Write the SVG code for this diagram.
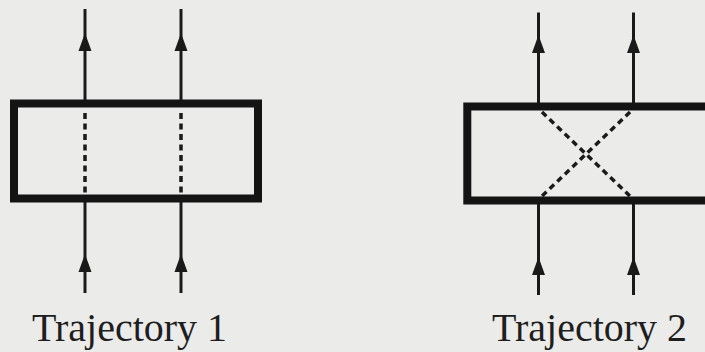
<svg xmlns="http://www.w3.org/2000/svg" xmlns:xlink="http://www.w3.org/1999/xlink" width="705" height="352" viewBox="0 0 705 352">
<style>
.bg{fill:#ebebea}
.box{fill:none;stroke:#141414;stroke-width:8}
.wire{stroke:#1a1a1a;stroke-width:3;fill:none}
.dash{stroke:#1a1a1a;stroke-width:3.5;fill:none;stroke-dasharray:6 4.5}
.ah{fill:#1a1a1a}
.lbl{font-family:"Liberation Serif","DejaVu Serif",serif;font-size:39px;fill:#1e1e1e}
</style>
<defs>
<path id="ah" d="M0,0 L-6.5,18 L6.5,18 Z"/>
</defs>
<rect class="bg" x="0" y="0" width="705" height="352"/>
<g id="connectors">
<line class="wire" x1="85" y1="9" x2="85" y2="104"/>
<line class="wire" x1="181" y1="9" x2="181" y2="104"/>
<line class="wire" x1="85" y1="198" x2="85" y2="293"/>
<line class="wire" x1="181" y1="198" x2="181" y2="293"/>
<line class="dash" x1="85" y1="113" x2="85" y2="194"/>
<line class="dash" x1="181" y1="113" x2="181" y2="194"/>
<use class="ah" xlink:href="#ah" x="85" y="33"/>
<use class="ah" xlink:href="#ah" x="181" y="33"/>
<use class="ah" xlink:href="#ah" x="85" y="254"/>
<use class="ah" xlink:href="#ah" x="181" y="254"/>
<line class="wire" x1="538.5" y1="12.5" x2="538.5" y2="106"/>
<line class="wire" x1="633.5" y1="12.5" x2="633.5" y2="106"/>
<line class="wire" x1="538.5" y1="200" x2="538.5" y2="295"/>
<line class="wire" x1="633.5" y1="200" x2="633.5" y2="295"/>
<line class="dash" x1="542" y1="112" x2="631" y2="197"/>
<line class="dash" x1="630" y1="112" x2="541" y2="197"/>
<use class="ah" xlink:href="#ah" x="538.5" y="35"/>
<use class="ah" xlink:href="#ah" x="633.5" y="35"/>
<use class="ah" xlink:href="#ah" x="538.5" y="257"/>
<use class="ah" xlink:href="#ah" x="633.5" y="257"/>
</g>
<g id="box1">
<rect class="box" x="14" y="103.5" width="244" height="95"/>
</g>
<g id="box2">
<rect class="box" x="467.3" y="106.5" width="260" height="94"/>
</g>
<g id="label1">
<text class="lbl" x="32" y="341" textLength="195" lengthAdjust="spacingAndGlyphs">Trajectory 1</text>
</g>
<g id="label2">
<text class="lbl" x="492" y="341" textLength="195" lengthAdjust="spacingAndGlyphs">Trajectory 2</text>
</g>
</svg>
